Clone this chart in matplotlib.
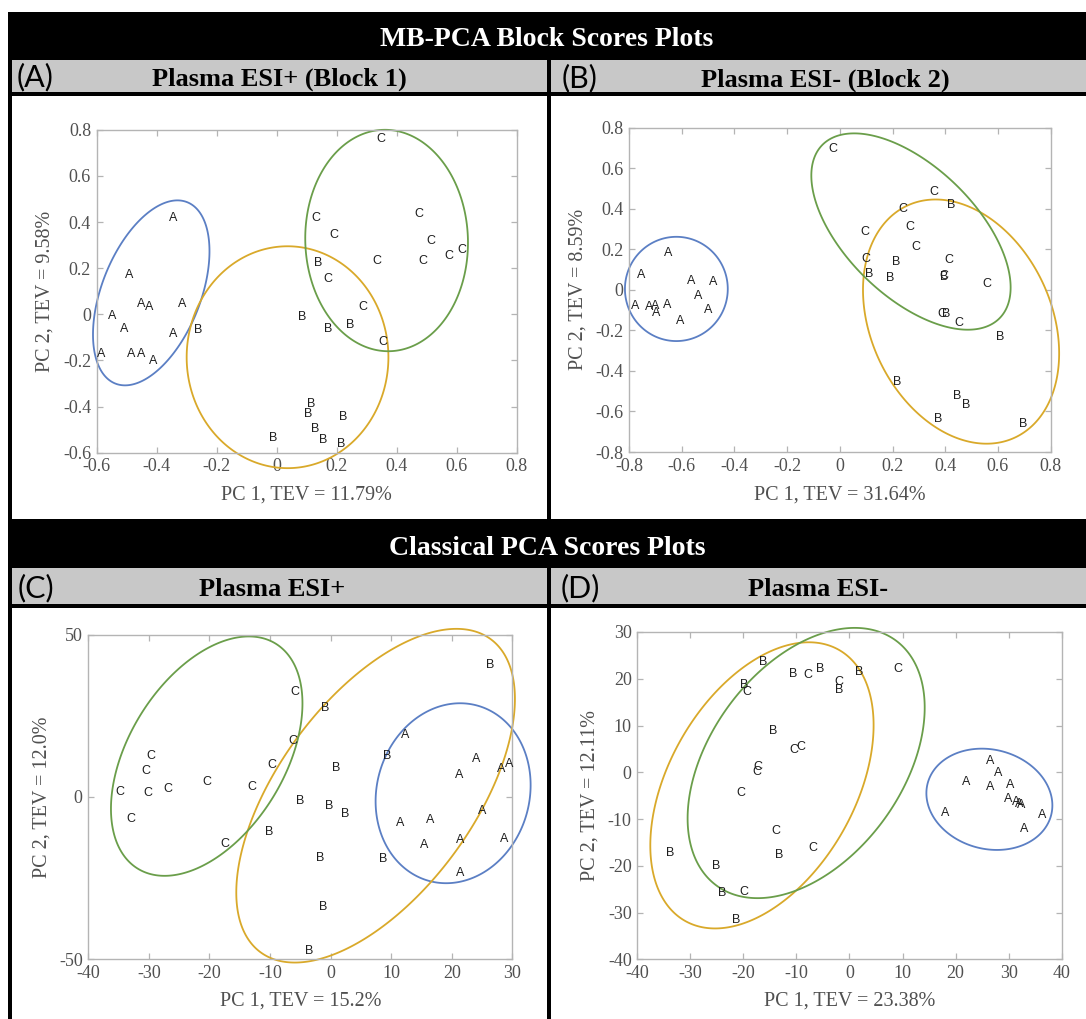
import numpy as np
import matplotlib
matplotlib.use("Agg")
import matplotlib.pyplot as plt
from matplotlib.patches import Rectangle, Polygon

# ---------------- data ----------------
# Panel A: MB-PCA, Plasma ESI+ (Block 1)
pA_A_x = [-0.345, -0.493, -0.451, -0.424, -0.314, -0.549, -0.507, -0.345, -0.585, -0.484, -0.453, -0.411]
pA_A_y = [0.419, 0.169, 0.043, 0.031, 0.043, -0.008, -0.065, -0.084, -0.174, -0.174, -0.174, -0.203]
pA_B_x = [-0.260, 0.138, 0.085, 0.173, 0.245, 0.114, 0.105, 0.220, 0.127, 0.156, -0.011, 0.216]
pA_B_y = [-0.070, 0.223, -0.012, -0.063, -0.048, -0.391, -0.431, -0.445, -0.499, -0.547, -0.537, -0.561]
pA_C_x = [0.347, 0.130, 0.192, 0.475, 0.514, 0.616, 0.575, 0.487, 0.333, 0.170, 0.286, 0.355]
pA_C_y = [0.761, 0.419, 0.345, 0.433, 0.320, 0.281, 0.252, 0.232, 0.232, 0.151, 0.031, -0.120]
# ellipses (group order A, B, C): centre x, centre y, half width, half height, correlation
pA_ell_cx = [-0.418, 0.036, 0.366]
pA_ell_cy = [0.093, -0.186, 0.320]
pA_ell_rx = [0.194, 0.336, 0.271]
pA_ell_ry = [0.401, 0.481, 0.480]
pA_ell_rho = [0.45, 0.0, -0.02]

# Panel B: MB-PCA, Plasma ESI- (Block 2)
pB_A_x = [-0.651, -0.754, -0.563, -0.479, -0.538, -0.778, -0.725, -0.702, -0.697, -0.656, -0.499, -0.605]
pB_A_y = [0.183, 0.075, 0.045, 0.040, -0.030, -0.080, -0.085, -0.080, -0.113, -0.075, -0.098, -0.154]
pB_B_x = [0.423, 0.213, 0.112, 0.190, 0.397, 0.402, 0.609, 0.216, 0.447, 0.481, 0.373, 0.694]
pB_B_y = [0.417, 0.137, 0.080, 0.060, 0.063, -0.118, -0.233, -0.455, -0.525, -0.570, -0.639, -0.664]
pB_C_x = [-0.026, 0.358, 0.240, 0.096, 0.265, 0.290, 0.099, 0.415, 0.396, 0.557, 0.387, 0.452]
pB_C_y = [0.696, 0.483, 0.400, 0.285, 0.310, 0.211, 0.154, 0.149, 0.067, 0.027, -0.121, -0.162]
pB_ell_cx = [-0.620, 0.460, 0.270]
pB_ell_cy = [0.004, -0.157, 0.287]
pB_ell_rx = [0.195, 0.372, 0.378]
pB_ell_ry = [0.257, 0.602, 0.484]
pB_ell_rho = [0.0, -0.26, -0.57]

# Panel C: Classical PCA, Plasma ESI+
pC_A_x = [12.24, 24.02, 21.26, 28.16, 29.37, 24.94, 11.38, 16.49, 15.34, 21.44, 28.62, 21.38]
pC_A_y = [19.1, 11.6, 6.7, 8.7, 10.2, -4.3, -7.9, -7.1, -14.8, -13.4, -13.0, -23.5]
pC_B_x = [26.32, -0.92, 9.31, 0.86, -5.06, -0.23, 2.41, -10.23, -1.72, 8.68, -1.21, -3.56]
pC_B_y = [40.5, 27.3, 12.6, 8.8, -1.2, -2.7, -5.3, -10.7, -18.9, -19.0, -34.0, -47.3]
pC_C_x = [-5.98, -6.26, -29.66, -30.52, -9.77, -20.46, -12.93, -34.83, -30.17, -26.84, -32.99, -17.47]
pC_C_y = [32.4, 17.2, 12.7, 8.1, 9.9, 4.7, 2.9, 1.6, 1.1, 2.4, -6.8, -14.5]
pC_ell_cx = [20.2, 7.41, -20.46]
pC_ell_cy = [1.13, 0.37, 12.55]
pC_ell_rx = [12.79, 22.99, 15.80]
pC_ell_ry = [27.7, 51.37, 36.85]
pC_ell_rho = [0.09, 0.58, 0.44]

# Panel D: Classical PCA, Plasma ESI-
pD_A_x = [26.54, 28.03, 22.05, 26.47, 30.37, 29.98, 31.41, 32.07, 32.39, 17.95, 36.29, 32.98]
pD_A_y = [2.5, -0.2, -2.1, -3.1, -2.7, -5.8, -6.3, -6.8, -7.0, -8.8, -9.1, -12.2]
pD_B_x = [-16.26, -10.67, -5.46, 1.76, -19.77, -2.02, -14.31, -33.76, -13.20, -25.17, -24.0, -21.27]
pD_B_y = [23.5, 21.1, 22.0, 21.4, 18.7, 17.6, 8.8, -17.3, -17.8, -20.0, -25.9, -31.6]
pD_C_x = [9.11, -7.80, -2.02, -19.32, -9.24, -10.41, -17.17, -17.50, -20.55, -13.92, -6.89, -19.97]
pD_C_y = [22.0, 20.8, 19.4, 17.1, 5.5, 4.8, 1.2, 0.1, -4.5, -12.6, -16.1, -25.5]
pD_ell_cx = [26.37, -16.49, -8.16]
pD_ell_cy = [-5.78, -2.8, 1.98]
pD_ell_rx = [11.87, 21.04, 22.34]
pD_ell_ry = [10.83, 30.6, 28.9]
pD_ell_rho = [-0.12, 0.42, 0.41]

group_labels = ["A", "B", "C"]
group_colors = ["#5b7fc4", "#d9a92a", "#6a9e4a"]

ticks_A = [-0.6, -0.4, -0.2, 0, 0.2, 0.4, 0.6, 0.8]
ticks_B = [-0.8, -0.6, -0.4, -0.2, 0, 0.2, 0.4, 0.6, 0.8]
ticks_Cx = [-40, -30, -20, -10, 0, 10, 20, 30]
ticks_Cy = [-50, 0, 50]
ticks_Dx = [-40, -30, -20, -10, 0, 10, 20, 30, 40]
ticks_Dy = [-40, -30, -20, -10, 0, 10, 20, 30]

xlabels = ["PC 1, TEV = 11.79%", "PC 1, TEV = 31.64%", "PC 1, TEV = 15.2%", "PC 1, TEV = 23.38%"]
ylabels = ["PC 2, TEV = 9.58%", "PC 2, TEV = 8.59%", "PC 2, TEV = 12.0%", "PC 2, TEV = 12.11%"]
section_titles = ["MB-PCA Block Scores Plots", "Classical PCA Scores Plots"]
panel_letters = ["(A)", "(B)", "(C)", "(D)"]
panel_titles = ["Plasma ESI+ (Block 1)", "Plasma ESI- (Block 2)", "Plasma ESI+", "Plasma ESI-"]

# ---------------- figure ----------------
W, H = 1086, 1019
fig = plt.figure(figsize=(W / 100, H / 100), dpi=100)
fig.patch.set_facecolor("white")

bg = fig.add_axes([0, 0, 1, 1])
bg.set_xlim(0, W)
bg.set_ylim(H, 0)
bg.axis("off")

def rect(x0, y0, x1, y1, color):
    bg.add_patch(Rectangle((x0, y0), x1 - x0, y1 - y0, facecolor=color, edgecolor="none"))

GRAY = "#c8c8c8"
# section 1
rect(8, 12, W, 60, "black")
rect(8, 60, W, 92, GRAY)
rect(8, 92, W, 96, "black")
# section 2
rect(8, 519, W, 568, "black")
rect(8, 568, W, 604, GRAY)
rect(8, 604, W, 608, "black")
# left border and middle dividers
rect(8, 12, 12, H, "black")
rect(547, 60, 551, 519, "black")
rect(547, 568, 551, H, "black")

serif = "Liberation Serif"
bg.text(547, 46, section_titles[0], color="white", fontsize=20, fontweight="bold",
        family=serif, ha="center", va="baseline")
bg.text(547, 555, section_titles[1], color="white", fontsize=20, fontweight="bold",
        family=serif, ha="center", va="baseline")

letter_pos = [(17, 86), (562, 87), (18, 597), (561, 597)]
title_pos = [(279, 86), (825, 87), (272, 596), (818, 596)]
for i in range(4):
    bg.text(letter_pos[i][0], letter_pos[i][1], panel_letters[i], fontsize=22,
            family="Lato", ha="left", va="baseline", color="black")
    bg.text(title_pos[i][0], title_pos[i][1], panel_titles[i], fontsize=19,
            family=serif, fontweight="bold", ha="center", va="baseline", color="black")

# axes rectangles in pixels: left, right, top, bottom
ax_px = [(96.6, 516.9, 129.8, 452.7),
         (628.9, 1050.7, 127.5, 452.0),
         (88.3, 512.5, 634.5, 959.3),
         (637.2, 1061.7, 632.0, 959.3)]
ylab_off = [51.6, 51.0, 46.6, 47.0]
xlab_off = [42.0, 43.5, 42.0, 42.0]

panels = [
    ((pA_A_x, pA_A_y), (pA_B_x, pA_B_y), (pA_C_x, pA_C_y),
     (pA_ell_cx, pA_ell_cy, pA_ell_rx, pA_ell_ry, pA_ell_rho),
     (-0.6, 0.8), (-0.6, 0.8), ticks_A, ticks_A),
    ((pB_A_x, pB_A_y), (pB_B_x, pB_B_y), (pB_C_x, pB_C_y),
     (pB_ell_cx, pB_ell_cy, pB_ell_rx, pB_ell_ry, pB_ell_rho),
     (-0.8, 0.8), (-0.8, 0.8), ticks_B, ticks_B),
    ((pC_A_x, pC_A_y), (pC_B_x, pC_B_y), (pC_C_x, pC_C_y),
     (pC_ell_cx, pC_ell_cy, pC_ell_rx, pC_ell_ry, pC_ell_rho),
     (-40, 30), (-50, 50), ticks_Cx, ticks_Cy),
    ((pD_A_x, pD_A_y), (pD_B_x, pD_B_y), (pD_C_x, pD_C_y),
     (pD_ell_cx, pD_ell_cy, pD_ell_rx, pD_ell_ry, pD_ell_rho),
     (-40, 40), (-40, 30), ticks_Dx, ticks_Dy),
]

def fmt(v):
    if abs(v) < 1e-9:
        return "0"
    return "%g" % v

SPINE = "#b4b4b4"
TXT = "#505050"
t = np.linspace(0, 2 * np.pi, 600, endpoint=False)

for i, (ga, gb, gc, ell, xl, yl, xt, yt) in enumerate(panels):
    l, r, tp, b = ax_px[i]
    ax = fig.add_axes([l / W, 1 - b / H, (r - l) / W, (b - tp) / H])
    ax.set_xlim(*xl)
    ax.set_ylim(*yl)
    ax.set_facecolor("none")
    for s in ax.spines.values():
        s.set_color(SPINE)
        s.set_linewidth(1.0)
    ax.set_xticks(xt)
    ax.set_yticks(yt)
    ax.set_xticklabels([fmt(v) for v in xt])
    ax.set_yticklabels([fmt(v) for v in yt])
    ax.tick_params(direction="in", length=4, width=0.9, color=SPINE, labelcolor=TXT,
                   labelsize=13, top=True, right=True, pad=4)
    for lab in ax.get_xticklabels() + ax.get_yticklabels():
        lab.set_family(serif)

    # ellipses (closed outlines)
    cx, cy, rx, ry, rho = ell
    for k in range(3):
        ex = cx[k] + rx[k] * np.cos(t)
        ey = cy[k] + ry[k] * (rho[k] * np.cos(t) + np.sqrt(1 - rho[k] ** 2) * np.sin(t))
        poly = Polygon(np.column_stack([ex, ey]), closed=True, fill=False,
                       edgecolor=group_colors[k], lw=1.3, clip_on=False, zorder=2)
        ax.add_patch(poly)

    # letter markers
    for k, (gx, gy) in enumerate((ga, gb, gc)):
        for x, y in zip(gx, gy):
            ax.text(x, y, group_labels[k], ha="center", va="center", fontsize=9,
                    family="Liberation Sans", color="#1e1e1e", zorder=3, clip_on=False)

    ax.set_xlabel(xlabels[i], fontsize=14.5, family=serif, color=TXT)
    ax.set_ylabel(ylabels[i], fontsize=14.5, family=serif, color=TXT)
    hpx = b - tp
    wpx = r - l
    ax.xaxis.set_label_coords(0.5, -xlab_off[i] / hpx)
    ax.xaxis.label.set_va("center")
    ax.yaxis.set_label_coords(-ylab_off[i] / wpx, 0.5)
    ax.yaxis.label.set_va("center")

fig.savefig("out.png", dpi=100, facecolor="white")
